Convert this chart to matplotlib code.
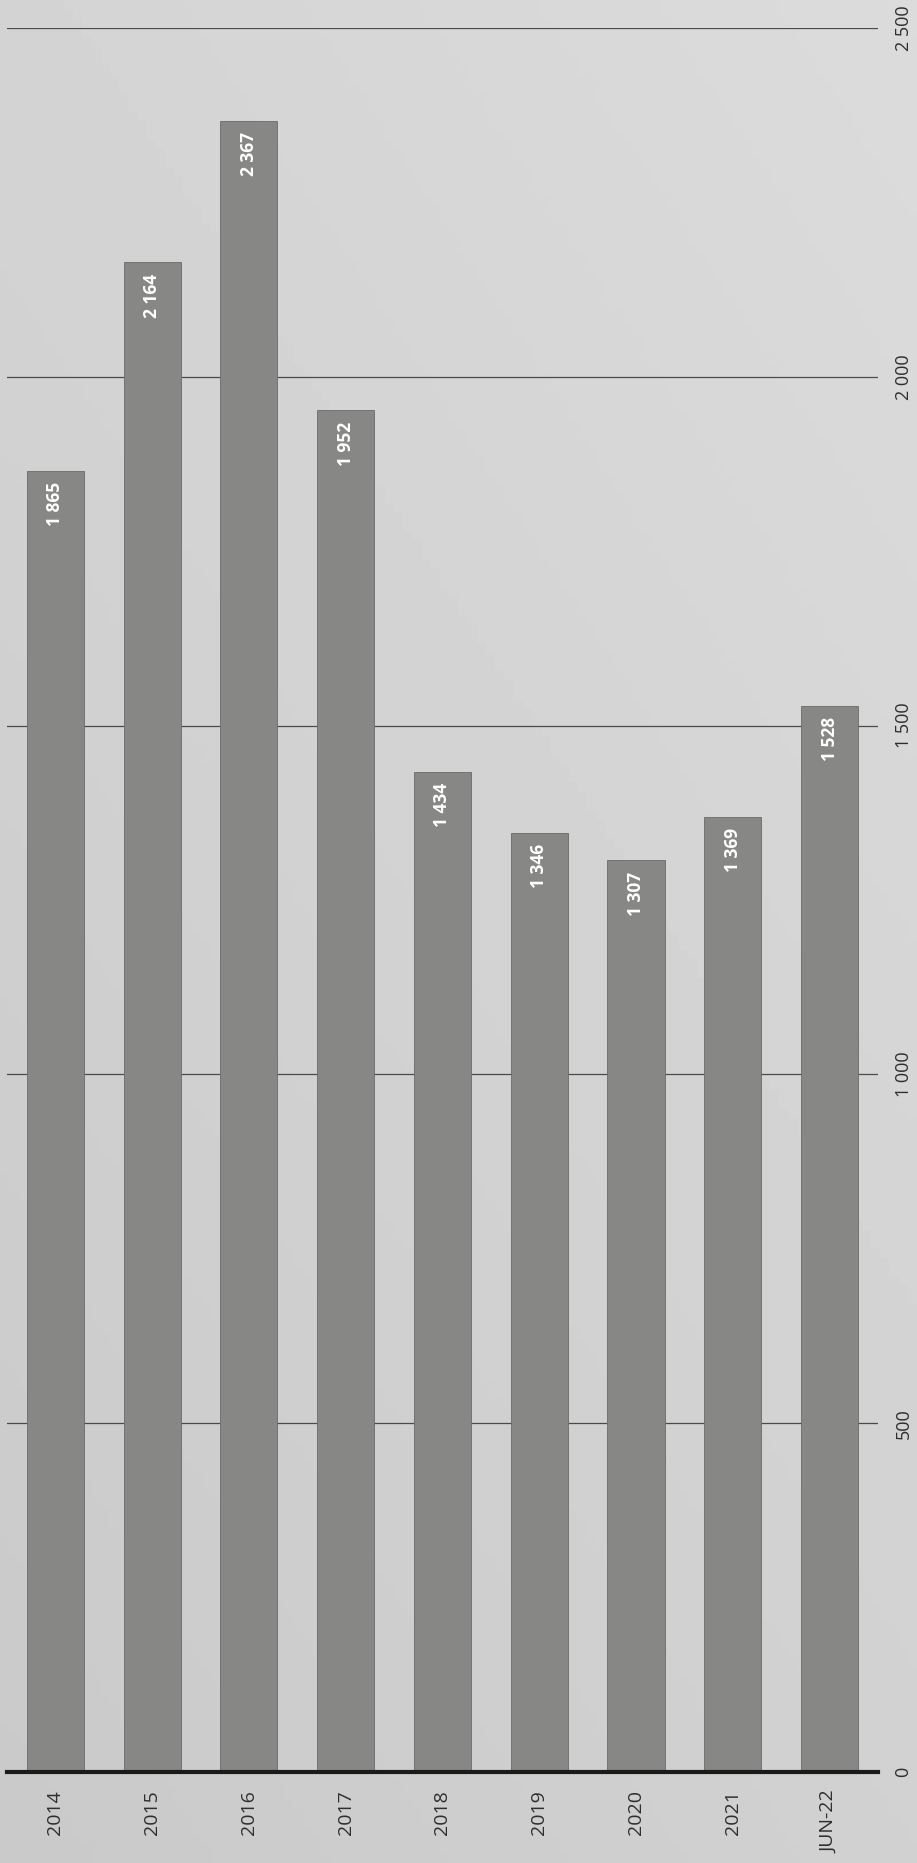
import matplotlib
matplotlib.use("Agg")
from matplotlib import pyplot as plt
import numpy as np

categories = ["2014", "2015", "2016", "2017", "2018", "2019", "2020", "2021", "JUN-22"]
values = [1865, 2164, 2367, 1952, 1434, 1346, 1307, 1369, 1528]
y_ticks = [0, 500, 1000, 1500, 2000, 2500]

plt.rcParams['font.family'] = ['Open Sans', 'DejaVu Sans']


def fmt(v):
    return f"{v:,}".replace(",", " ")


fig = plt.figure(figsize=(9.17, 18.63), dpi=100)

# scanned-paper background
bg = fig.add_axes([0, 0, 1, 1], zorder=-10)
yy, xx = np.mgrid[0:1:200j, 0:1:100j]
shade = 0.79 + 0.04 * yy + 0.03 * xx
bg.imshow(shade, cmap="gray", vmin=0, vmax=1, aspect="auto", origin="lower",
          extent=[0, 1, 0, 1])
bg.axis("off")

ax = fig.add_axes([0.0076, 0.0488, 0.9498, 0.9362])
ax.patch.set_alpha(0)

x = np.arange(len(categories))
ax.bar(x, values, width=0.59, color="#878786", edgecolor="#6a6a6a",
       linewidth=0.6, zorder=2)

for xi, v in zip(x, values):
    ax.text(xi, v - 16, fmt(v), rotation=90, ha="center", va="top",
            color="white", fontsize=12.5, fontweight="bold", zorder=3)

ax.set_xlim(-0.5, len(categories) - 0.5)
ax.set_ylim(0, 2500)
ax.set_yticks(y_ticks)
ax.set_yticklabels([fmt(t) for t in y_ticks], rotation=90, va="center",
                   fontsize=13, color="#2e2e2e")
ax.yaxis.tick_right()
ax.tick_params(axis="y", length=0, pad=12)
ax.set_xticks(x)
ax.set_xticklabels(categories, rotation=90, ha="center", va="top",
                   fontsize=14, color="#2e2e2e")
ax.tick_params(axis="x", length=0, pad=13)

ax.grid(axis="y", color="#4a4a4a", linewidth=0.9, zorder=0)
ax.set_axisbelow(True)
for s in ["top", "right", "left"]:
    ax.spines[s].set_visible(False)
ax.spines["bottom"].set_linewidth(3)
ax.spines["bottom"].set_color("#1a1a1a")
ax.spines["bottom"].set_zorder(4)

plt.savefig("out.png", dpi=100)
